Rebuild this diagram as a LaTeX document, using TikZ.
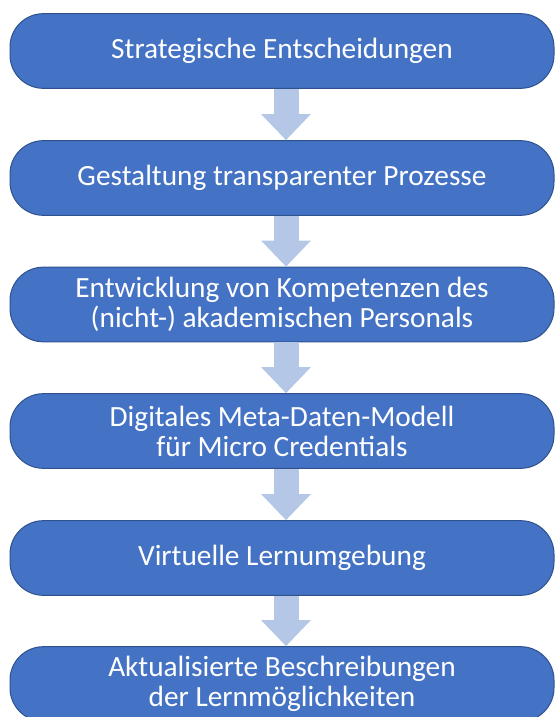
\documentclass[tikz,border=0pt]{standalone}
\usepackage{fontspec}
\setmainfont{Carlito}
\usepackage{xcolor}
\usetikzlibrary{positioning,arrows.meta}

\definecolor{boxfill}{RGB}{68,114,196}
\definecolor{boxline}{RGB}{47,82,143}
\definecolor{arrowfill}{RGB}{180,199,231}

\tikzset{
  stepbox/.style={draw=boxline, line width=0.75pt, fill=boxfill, rounded corners=25pt,
    minimum width=408pt, minimum height=56pt, inner sep=0pt, text=white, align=center,
    font=\fontsize{22}{22.5}\selectfont},
  flowarrow/.style={draw=arrowfill, line width=18.75pt,
    -{Triangle[length=19.5pt,width=36pt]}}
}

\begin{document}
\begin{tikzpicture}[x=0.75pt,y=0.75pt,yscale=-1,xscale=1]
  \clip (0,0) rectangle (555,717);

  % Steps
  \node [stepbox] (strat) at (282,51) {Strategische Entscheidungen};
  \node [stepbox] (proz) at (282,178) {Gestaltung transparenter Prozesse};
  \node [stepbox] (komp) at (282,304.5) {Entwicklung von Kompetenzen des\\(nicht-) akademischen Personals};
  \node [stepbox] (meta) at (282,431) {Digitales Meta-Daten-Modell\\für Micro Credentials};
  \node [stepbox] (lern) at (282,558) {Virtuelle Lernumgebung};
  \node [stepbox] (besch) at (282,684) {Aktualisierte Beschreibungen\\der Lernmöglichkeiten};

  % Arrows
  \draw [flowarrow] ([xshift=3pt]strat.south) -- ([xshift=3pt]proz.north);
  \draw [flowarrow] ([xshift=3pt]proz.south) -- ([xshift=3pt]komp.north);
  \draw [flowarrow] ([xshift=3pt]komp.south) -- ([xshift=3pt]meta.north);
  \draw [flowarrow] ([xshift=3pt]meta.south) -- ([xshift=3pt]lern.north);
  \draw [flowarrow] ([xshift=3pt]lern.south) -- ([xshift=3pt]besch.north);

\end{tikzpicture}
\end{document}
